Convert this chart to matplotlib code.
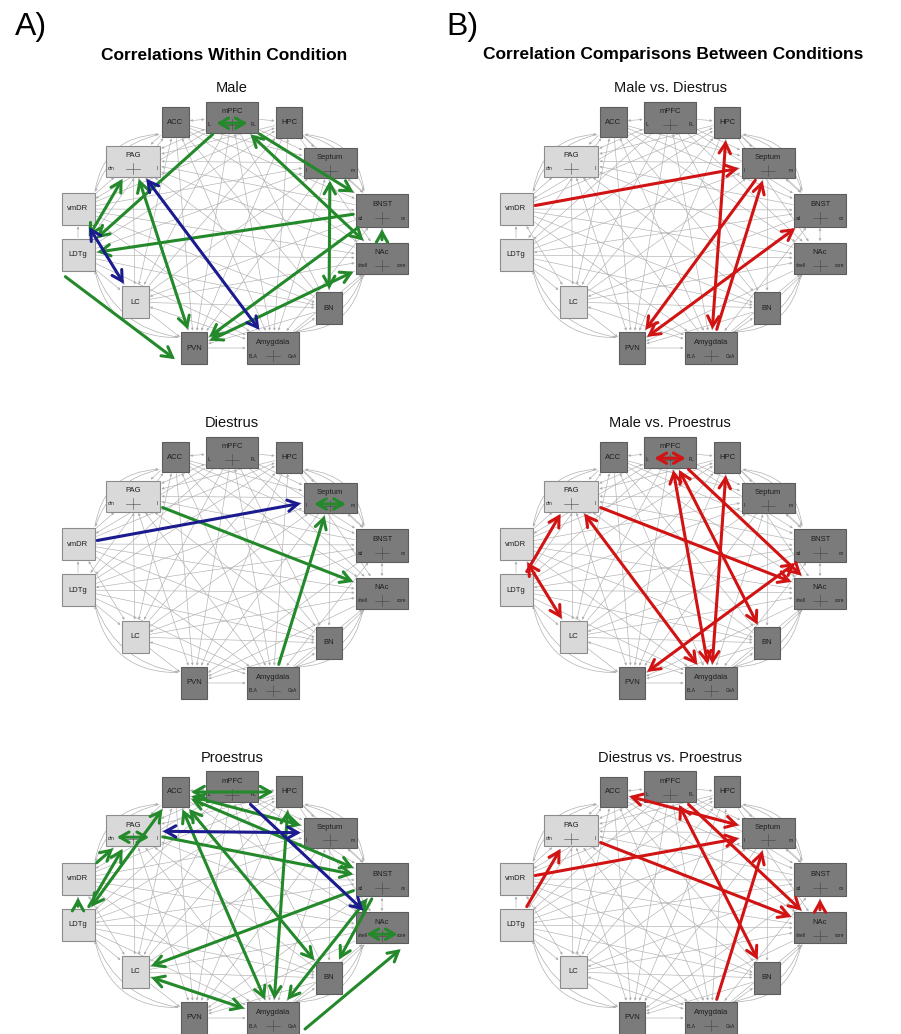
import matplotlib
matplotlib.use('Agg')
import matplotlib.pyplot as plt
from matplotlib.patches import Rectangle, FancyArrowPatch

plt.rcParams['font.family'] = ['Liberation Sans', 'DejaVu Sans']

W, H = 901, 1034

# brain regions and their sub-divisions
regions = ['ACC', 'mPFC', 'HPC', 'PAG', 'Septum', 'vmDR', 'BNST',
           'LDTg', 'NAc', 'LC', 'BN', 'PVN', 'Amygdala']
subregions = {'mPFC': ('IL', 'PL'), 'PAG': ('dm', 'l'), 'Septum': ('l', 'm'),
              'BNST': ('ad', 'ov'), 'NAc': ('shell', 'core'),
              'Amygdala': ('BLA', 'CeA')}
light_regions = ['PAG', 'vmDR', 'LDTg', 'LC']

# anatomical connections (grey background), '>' head at 2nd, '<' at 1st
anat = [
    ('mPFC', 'PAG', '<>'), ('mPFC', 'vmDR', '>'), ('mPFC', 'LDTg', '>'),
    ('mPFC', 'LC', '>'), ('mPFC', 'PVN', '>'), ('mPFC', 'Amygdala', '<>'),
    ('mPFC', 'BN', '>'), ('mPFC', 'NAc', '>'), ('mPFC', 'BNST', '>'),
    ('mPFC', 'Septum', '>'), ('ACC', 'Septum', '>'), ('ACC', 'BNST', '>'),
    ('ACC', 'NAc', '>'), ('ACC', 'Amygdala', '<>'), ('ACC', 'PVN', '>'),
    ('ACC', 'LC', '<>'), ('ACC', 'LDTg', '<>'), ('ACC', 'BN', '>'),
    ('ACC', 'PAG', '>'), ('HPC', 'Septum', '>'), ('HPC', 'NAc', '>'),
    ('HPC', 'BNST', '>'), ('HPC', 'Amygdala', '<>'), ('HPC', 'PAG', '>'),
    ('HPC', 'LC', '<'), ('HPC', 'LDTg', '<'), ('HPC', 'PVN', '>'),
    ('HPC', 'vmDR', '<'), ('PAG', 'Septum', '<'), ('PAG', 'BNST', '<'),
    ('PAG', 'NAc', '<'), ('PAG', 'Amygdala', '<'), ('PAG', 'PVN', '<>'),
    ('PAG', 'LC', '<>'), ('PAG', 'BN', '<'), ('Septum', 'vmDR', '<'),
    ('Septum', 'LDTg', '<'), ('Septum', 'LC', '<'), ('Septum', 'PVN', '>'),
    ('Septum', 'Amygdala', '<>'), ('Septum', 'BN', '>'), ('vmDR', 'BNST', '>'),
    ('vmDR', 'NAc', '>'), ('vmDR', 'Amygdala', '>'), ('vmDR', 'LC', '<>'),
    ('vmDR', 'BN', '>'), ('BNST', 'LDTg', '<>'), ('BNST', 'LC', '>'),
    ('BNST', 'PVN', '>'), ('BNST', 'Amygdala', '<>'), ('LDTg', 'NAc', '>'),
    ('LDTg', 'Amygdala', '>'), ('LDTg', 'BN', '>'), ('NAc', 'LC', '<'),
    ('NAc', 'PVN', '>'), ('NAc', 'Amygdala', '<'), ('LC', 'BN', '>'),
    ('LC', 'Amygdala', '<>'), ('BN', 'PVN', '>'), ('LC', 'PVN', '>'),
    ('ACC', 'mPFC', '<>'), ('mPFC', 'HPC', '>'), ('Septum', 'BNST', '<>'),
    ('BNST', 'NAc', '<>'), ('NAc', 'BN', '<'), ('BN', 'Amygdala', '<'),
    ('PVN', 'Amygdala', '>'), ('LDTg', 'LC', '>'), ('LDTg', 'vmDR', '>'),
    ('vmDR', 'PAG', '>'),
]
# long outer connections around the ring
outer = [('ACC', 'vmDR'), ('HPC', 'BNST'), ('Amygdala', 'NAc'), ('LDTg', 'PVN')]

# significant correlations: (from, to, heads)
male_pos = [('mPFC', 'mPFC', '<>'), ('mPFC', 'LDTg', '>'), ('mPFC', 'NAc', '<>'),
            ('mPFC', 'BNST', '>'), ('LDTg', 'PAG', '<>'), ('PAG', 'PVN', '<>'),
            ('LDTg', 'PVN', '>'), ('BNST', 'LDTg', '>'), ('Septum', 'BN', '<>'),
            ('BNST', 'PVN', '>'), ('NAc', 'PVN', '<>'), ('NAc', 'BNST', '>')]
male_neg = [('PAG', 'Amygdala', '<>'), ('vmDR', 'LC', '<>')]

diestrus_pos = [('Septum', 'Septum', '<>'), ('PAG', 'NAc', '>'),
                ('Amygdala', 'Septum', '>')]
diestrus_neg = [('vmDR', 'Septum', '>')]

proestrus_pos = [('PAG', 'PAG', '<>'), ('NAc', 'NAc', '<>'), ('vmDR', 'PAG', '>'),
                 ('LDTg', 'vmDR', '>'), ('LDTg', 'PAG', '>'), ('ACC', 'LDTg', '<>'),
                 ('ACC', 'HPC', '<>'), ('ACC', 'Septum', '<>'), ('ACC', 'BNST', '<>'),
                 ('ACC', 'Amygdala', '<>'), ('ACC', 'BN', '<>'), ('HPC', 'Amygdala', '<>'),
                 ('PAG', 'BNST', '>'), ('BNST', 'LC', '>'), ('LC', 'Amygdala', '<>'),
                 ('Amygdala', 'BNST', '<>'), ('BNST', 'BN', '>'), ('Amygdala', 'NAc', '>')]
proestrus_neg = [('PAG', 'Septum', '<>'), ('mPFC', 'NAc', '>')]

male_vs_diestrus = [('vmDR', 'Septum', '>'), ('HPC', 'Amygdala', '<>'),
                    ('Septum', 'PVN', '>'), ('Amygdala', 'Septum', '>'),
                    ('PVN', 'BNST', '<>')]
male_vs_proestrus = [('mPFC', 'mPFC', '<>'), ('LDTg', 'PAG', '>'), ('vmDR', 'LC', '<>'),
                     ('PAG', 'Amygdala', '<>'), ('PAG', 'NAc', '>'), ('mPFC', 'BN', '<>'),
                     ('mPFC', 'Amygdala', '<>'), ('HPC', 'Amygdala', '<>'),
                     ('mPFC', 'NAc', '>'), ('PVN', 'BNST', '<>')]
diestrus_vs_proestrus = [('ACC', 'Septum', '<>'), ('mPFC', 'BN', '<>'), ('mPFC', 'NAc', '>'),
                         ('PAG', 'NAc', '>'), ('vmDR', 'Septum', '>'), ('LDTg', 'PAG', '>'),
                         ('Amygdala', 'Septum', '>'), ('NAc', 'BNST', '>')]

# box layout inside a panel (pixels): cx, cy, w, h
LAYOUT = {
    'ACC': (125, 27, 27, 30), 'mPFC': (182, 22, 52, 31), 'HPC': (239, 27, 26, 31),
    'PAG': (83, 66, 54, 31), 'Septum': (280, 68, 53, 30), 'vmDR': (28, 114, 33, 32),
    'BNST': (332, 115, 52, 33), 'LDTg': (28, 160, 33, 32), 'NAc': (332, 163, 52, 31),
    'LC': (85, 207, 27, 32), 'BN': (279, 213, 26, 32), 'PVN': (144, 253, 26, 32),
    'Amygdala': (223, 253, 52, 32),
}
# edges that run around the outside instead of through the middle
ANCHORS = {('Amygdala', 'NAc'): ((1.15, 0.8), (0.8, 1.25)),
           ('LDTg', 'PVN'): ((-0.9, 1.25), (-1.3, 0.8))}

GREEN, BLUE, RED = '#23892a', '#1b1b8f', '#d11313'
GREY = '#b0b0b0'
STYLES = {'>': '-|>', '<': '<|-', '<>': '<|-|>'}
BOLD = {'>': '->,head_length=0.6,head_width=0.34',
        '<': '<-,head_length=0.6,head_width=0.34',
        '<>': '<->,head_length=0.6,head_width=0.34'}


def edge_point(name, toward, anchor=None):
    cx, cy, w, h = LAYOUT[name]
    if anchor is not None:
        return cx + anchor[0] * w / 2, cy + anchor[1] * h / 2
    dx, dy = toward[0] - cx, toward[1] - cy
    sx = (w / 2) / abs(dx) if dx else 1e9
    sy = (h / 2) / abs(dy) if dy else 1e9
    s = min(sx, sy)
    return cx + dx * s, cy + dy * s


def draw_panel(ax, title, pos=(), neg=(), color=None):
    ax.set_xlim(0, 370)
    ax.set_ylim(285, 0)
    ax.axis('off')
    ax.text(182, -7, title, ha='center', va='center', fontsize=10.5, color='#111')

    # background anatomical network
    for a, b, heads in anat:
        pa = edge_point(a, LAYOUT[b][:2])
        pb = edge_point(b, LAYOUT[a][:2])
        ax.add_patch(FancyArrowPatch(pa, pb, arrowstyle=STYLES[heads],
                                     mutation_scale=3.5, lw=0.45, color=GREY,
                                     shrinkA=1, shrinkB=1, zorder=1))
    for a, b in outer:
        for k, rad in enumerate((0.3, 0.42)):
            ca, cb = LAYOUT[a], LAYOUT[b]
            pa = edge_point(a, cb[:2])
            pb = edge_point(b, ca[:2])
            style = '-|>' if k == 0 else '<|-'
            ax.add_patch(FancyArrowPatch(pa, pb, arrowstyle=style,
                                         connectionstyle='arc3,rad=%s' % (rad if a != 'HPC' else -rad),
                                         mutation_scale=3.5, lw=0.5, color=GREY,
                                         shrinkA=2, shrinkB=2, zorder=1))

    # region boxes
    for name in regions:
        cx, cy, w, h = LAYOUT[name]
        light = name in light_regions
        ax.add_patch(Rectangle((cx - w / 2, cy - h / 2), w, h,
                               facecolor='#d9d9d9' if light else '#7b7b7b',
                               edgecolor='#8c8c8c' if light else '#5c5c5c',
                               lw=0.8, zorder=2))
        if name in subregions:
            ax.text(cx, cy - h * 0.17, name, ha='center', va='center',
                    fontsize=5.5, color='#1e1e1e', zorder=3)
            left, right = subregions[name]
            ax.text(cx - w / 2 + 2, cy + h * 0.25, left, ha='left', va='center',
                    fontsize=3.4, color='#1e1e1e', zorder=3)
            ax.text(cx + w / 2 - 2, cy + h * 0.25, right, ha='right', va='center',
                    fontsize=3.4, color='#1e1e1e', zorder=3)
            ax.plot([cx - 7, cx + 7], [cy + h * 0.25] * 2, color='#444', lw=0.4, zorder=3)
            ax.plot([cx, cx], [cy + h * 0.05, cy + h * 0.42], color='#444', lw=0.4, zorder=3)
        else:
            ax.text(cx, cy, name, ha='center', va='center',
                    fontsize=5.5, color='#1e1e1e', zorder=3)

    # significant correlations
    groups = [(pos, color or GREEN), (neg, BLUE)]
    for edges, c in groups:
        for a, b, heads in edges:
            if a == b:
                cx, cy, w, h = LAYOUT[a]
                ax.add_patch(FancyArrowPatch((cx - w * 0.3, cy + h * 0.2),
                                             (cx + w * 0.3, cy + h * 0.2),
                                             arrowstyle=BOLD['<>'], mutation_scale=11,
                                             lw=2.2, color=c, shrinkA=0, shrinkB=0,
                                             zorder=4))
                continue
            anc = ANCHORS.get((a, b), (None, None))
            pa = edge_point(a, LAYOUT[b][:2], anc[0])
            pb = edge_point(b, LAYOUT[a][:2], anc[1])
            ax.add_patch(FancyArrowPatch(pa, pb, arrowstyle=BOLD[heads],
                                         mutation_scale=12, lw=2.2, color=c,
                                         shrinkA=2, shrinkB=2, zorder=4,
                                         capstyle='round', joinstyle='miter'))


fig = plt.figure(figsize=(W / 100, H / 100), dpi=100)
fig.patch.set_facecolor('white')


def panel_axes(x0, y0, pw=370, ph=285):
    return fig.add_axes([x0 / W, 1 - (y0 + ph) / H, pw / W, ph / H])


fig.text(15 / W, 1 - 27 / H, 'A)', fontsize=23, ha='left', va='center')
fig.text(446 / W, 1 - 27 / H, 'B)', fontsize=23, ha='left', va='center')
fig.text(224 / W, 1 - 55 / H, 'Correlations Within Condition', fontsize=12.5,
         fontweight='bold', ha='center', va='center')
fig.text(673 / W, 1 - 55 / H, 'Correlation Comparisons Between Conditions',
         fontsize=12.5, fontweight='bold', ha='center', va='center')

rows = [95, 430, 765]
draw_panel(panel_axes(50, rows[0]), 'Male', male_pos, male_neg)
draw_panel(panel_axes(50, rows[1]), 'Diestrus', diestrus_pos, diestrus_neg)
draw_panel(panel_axes(50, rows[2]), 'Proestrus', proestrus_pos, proestrus_neg)
draw_panel(panel_axes(488, rows[0]), 'Male vs. Diestrus', male_vs_diestrus, color=RED)
draw_panel(panel_axes(488, rows[1]), 'Male vs. Proestrus', male_vs_proestrus, color=RED)
draw_panel(panel_axes(488, rows[2]), 'Diestrus vs. Proestrus', diestrus_vs_proestrus, color=RED)

fig.savefig('out.png', dpi=100, facecolor='white')
